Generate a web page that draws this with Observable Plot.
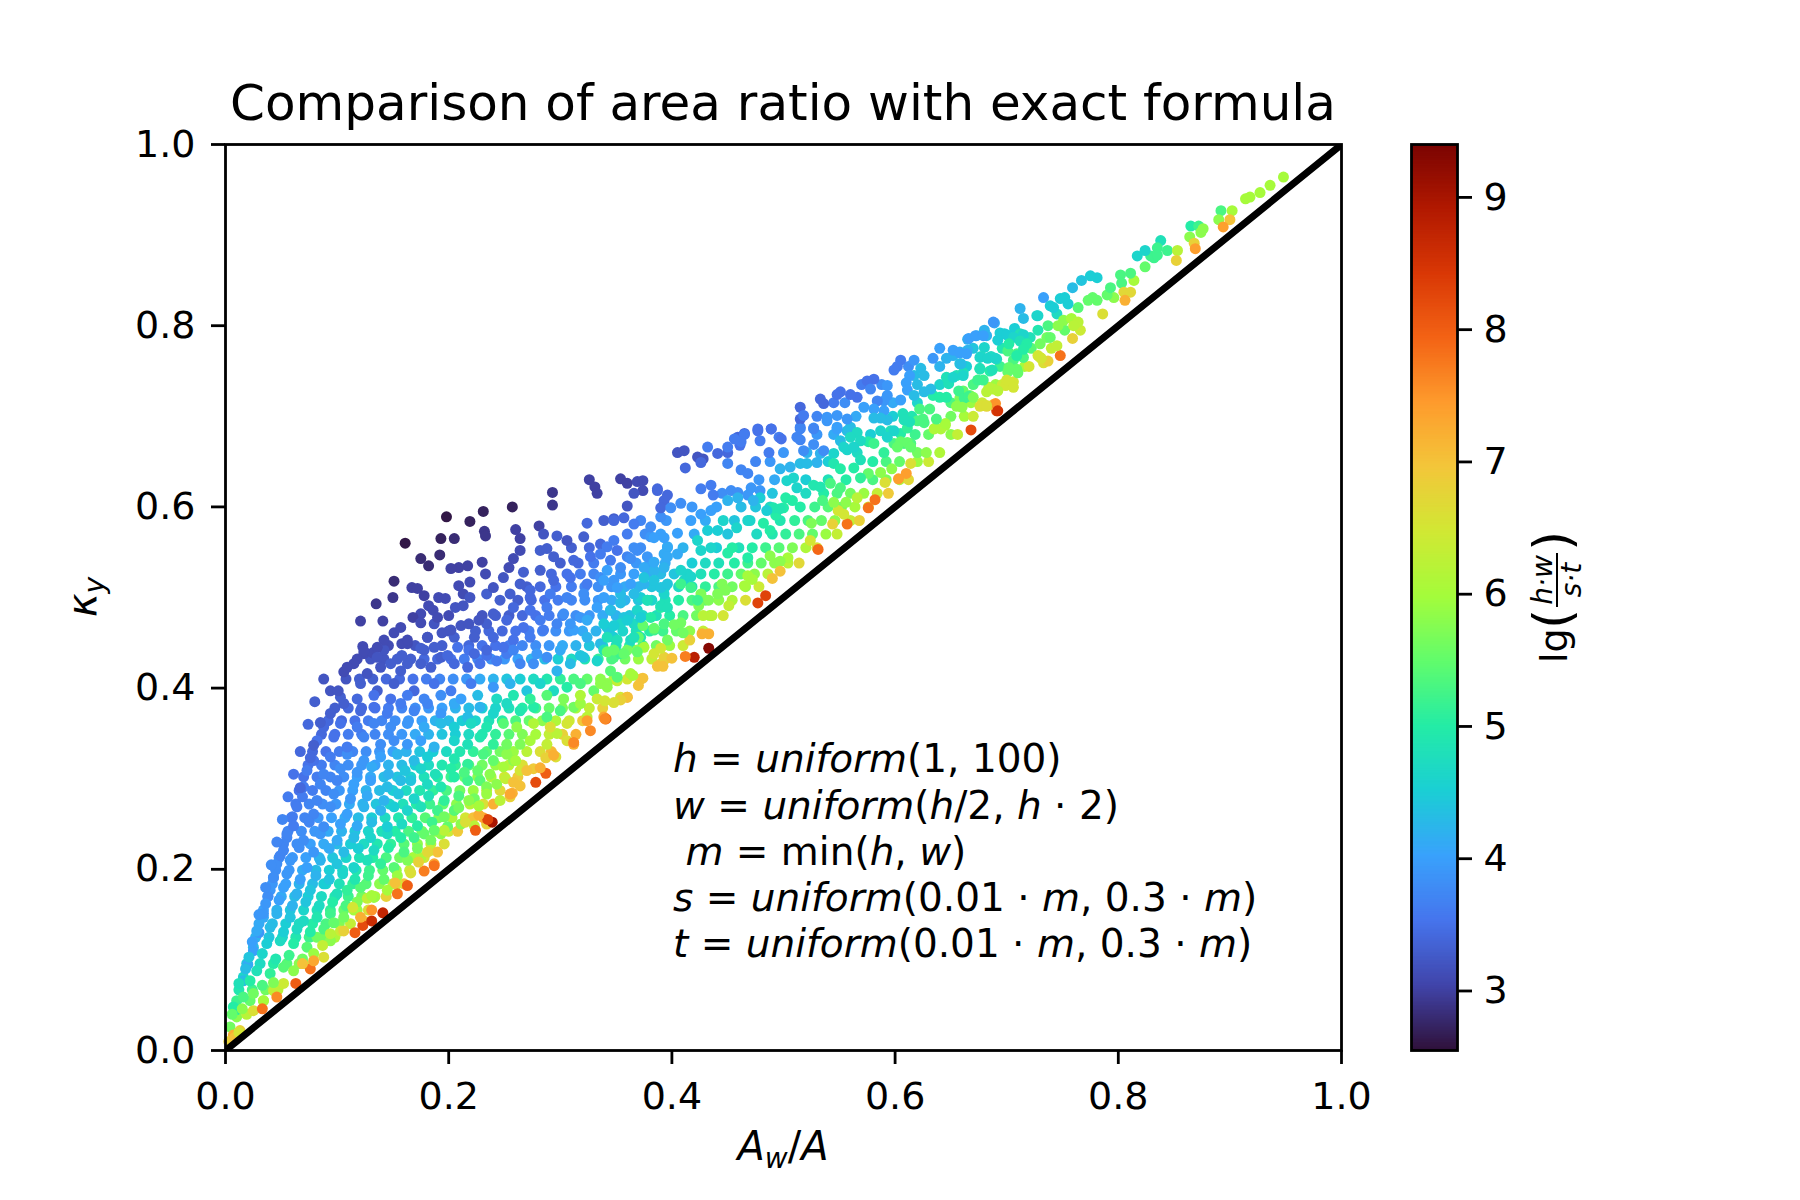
<!DOCTYPE html>
<html>
<head>
<meta charset="utf-8">
<script src="https://cdn.jsdelivr.net/npm/d3@7"></script>
<script src="https://cdn.jsdelivr.net/npm/@observablehq/plot@0.6"></script>
<style>
  html, body { margin: 0; padding: 0; background: white; }
  #wrap { position: relative; width: 1800px; height: 1200px; }
  g[aria-label$="-axis tick"] { stroke-width: 2.8px; }
  g[aria-label="x-axis"] .tick line, g[aria-label="y-axis"] .tick line { stroke-width: 2.8px; }
</style>
</head>
<body>
<div id="wrap"></div>
<script>
// ---------------- data ----------------
// each entry: [A_w/A, kappa_y, lg(h*w/(s*t))]
const darkTop = [
[.161,.560,2.6],[.198,.589,2.6],[.219,.584,2.7],[.231,.595,2.7],[.257,.600,2.7],[.193,.565,2.7],[.205,.565,2.8],
[.175,.543,2.8],[.182,.535,2.8],[.192,.547,2.8],[.151,.518,2.8],[.150,.500,2.9],[.135,.493,2.9],[.121,.474,3.0],
[.141,.474,3.0],[.123,.446,3.1],[.109,.423,3.1],[.101,.397,3.2],[.085,.362,3.3],[.079,.337,3.3],[.076,.323,3.4],
[.067,.290,3.4],[.232,.573,2.9],[.233,.568,2.9],[.260,.575,3.0],[.264,.565,3.0],[.264,.552,3.1],[.281,.579,3.0],
[.293,.616,2.9],[.293,.602,2.9],[.326,.630,3.0],[.331,.622,3.0],[.333,.615,3.0],[.354,.631,3.0],[.360,.626,3.0],
[.374,.629,3.1],[.374,.618,3.1],[.387,.618,3.4],[.393,.607,3.4],[.366,.615,3.2],[.360,.601,3.2],[.339,.585,3.3],
[.348,.587,3.3],[.324,.582,3.4],[.297,.568,3.3],[.282,.552,3.3],[.288,.554,3.3],[.254,.533,3.1],[.258,.543,3.1],
[.267,.528,3.3],[.230,.539,3.0],[.209,.533,3.0],[.217,.535,3.0],[.233,.526,3.1],[.202,.532,3.0],[.209,.513,3.1],
[.219,.517,3.1],[.213,.504,3.1],[.167,.511,3.0],[.172,.510,3.0],[.178,.502,3.0],[.191,.500,3.1],[.197,.499,3.1],
[.182,.491,3.1],[.186,.486,3.1],[.175,.482,3.1],[.190,.478,3.1],[.206,.489,3.2],[.213,.491,3.2],[.151,.461,3.1],
[.157,.467,3.1],[.168,.478,3.0],[.175,.472,3.1],[.194,.461,3.2],[.202,.464,3.2],[.211,.469,3.2],[.218,.471,3.2],
[.227,.475,3.2],[.158,.449,3.1],[.163,.453,3.1],[.142,.453,3.1],[.132,.439,3.1],[.136,.445,3.1],[.181,.456,3.2],
[.175,.444,3.3],[.187,.445,3.3],[.208,.445,3.5],[.124,.441,3.1],[.136,.434,3.2],[.219,.500,3.2],[.234,.504,3.3],
[.246,.497,3.3],[.240,.482,3.3],[.252,.475,3.4],[.249,.522,3.2],[.264,.515,3.3],[.273,.508,3.4],[.240,.511,3.2],
[.285,.570,3.2],[.366,.581,3.6],[.381,.578,3.8],[.390,.589,3.8],[.249,.445,3.5],[.234,.442,3.4],[.223,.438,3.4]
];

const leftEdge = [
[.018,.090,4.3],[.024,.120,4.0],[.030,.150,3.9],[.036,.180,3.8],[.041,.205,3.8],[.046,.230,3.7],[.051,.255,3.7],
[.056,.280,3.6],[.061,.305,3.5],[.067,.330,3.4],[.074,.360,3.4],[.080,.385,3.3],[.088,.410,3.2]
];

const bandMiddle = [
[.106,.418,3.1],[.115,.427,3.1],[.127,.416,3.2],[.139,.423,3.2],[.148,.427,3.3],[.157,.419,3.3],[.163,.427,3.3],
[.175,.427,3.3],[.184,.423,3.3],[.193,.434,3.3],[.205,.427,3.4],[.217,.423,3.4],[.228,.427,3.5],[.243,.430,3.6],
[.252,.438,3.6],[.264,.427,3.7],[.276,.427,3.8],[.288,.434,3.8],[.297,.419,4.2],[.309,.427,4.3],[.321,.434,4.4],
[.333,.430,4.6],[.348,.434,5.3],[.360,.442,5.6],[.369,.442,5.8],[.384,.438,6.5],[.390,.427,6.9],[.393,.434,6.8],
[.163,.449,3.1],[.181,.456,3.2],[.205,.456,3.3],[.223,.456,3.3],[.240,.456,3.4],[.258,.453,3.5],[.273,.456,3.6],
[.285,.464,3.6],[.297,.471,3.7],[.312,.464,4.0],[.324,.456,4.2],[.336,.449,4.3],[.348,.456,4.5],[.363,.453,4.7],
[.372,.456,4.9],[.384,.464,5.2],[.393,.471,5.3],[.396,.453,5.6],
[.258,.489,3.4],[.273,.486,3.5],[.288,.489,3.6],[.303,.482,3.8],[.318,.478,3.9],[.333,.489,4.0],[.345,.486,4.2],
[.357,.478,4.4],[.369,.486,4.6],[.378,.497,4.8],[.390,.489,5.0],[.393,.504,4.6],
[.282,.530,3.3],[.294,.519,3.4],[.309,.522,3.5],[.324,.515,3.6],[.336,.522,3.8],[.348,.519,3.9],[.363,.515,4.0],
[.375,.515,4.2],[.384,.530,4.2],[.393,.533,4.2],
[.306,.563,3.2],[.321,.567,3.3],[.336,.559,3.4],[.351,.552,3.5],[.369,.552,3.8],[.381,.567,3.9],[.390,.570,4.0],
[.396,.556,4.1],[.378,.545,3.9],
[.094,.372,3.3],[.106,.383,3.3],[.121,.375,3.4],[.133,.379,3.5],[.145,.372,3.6],[.157,.383,3.6],[.169,.375,3.7],
[.181,.383,3.7],[.193,.372,3.9],[.205,.383,4.1],[.217,.368,4.3],[.228,.379,4.2],[.240,.372,4.6],[.252,.383,4.7],
[.264,.375,4.9],[.276,.379,5.0],[.288,.368,5.3],[.300,.375,5.3],[.312,.379,5.6],[.318,.383,5.9],[.324,.368,6.2],
[.339,.368,7.3],[.354,.390,6.5],[.360,.390,7.3],
[.082,.342,3.5],[.097,.346,3.5],[.109,.335,3.6],[.124,.346,3.7],[.139,.338,3.8],[.151,.342,3.8],[.163,.338,3.9],
[.175,.342,4.0],[.187,.335,4.2],[.205,.342,4.6],[.217,.338,4.8],[.228,.346,4.9],[.240,.338,5.1],[.252,.338,5.6],
[.264,.338,5.7],[.273,.342,6.0],[.288,.338,6.3],[.297,.350,6.2],[.306,.342,6.6],[.312,.338,7.2],[.327,.353,7.6],
[.341,.366,7.9],
[.094,.397,3.2],[.121,.405,3.3],[.136,.397,3.3],[.151,.405,3.3],[.169,.397,3.4],[.187,.405,3.5],[.202,.397,3.6],
[.220,.405,3.6],[.240,.401,3.9],[.255,.405,4.2],[.270,.397,4.4],[.282,.405,4.6],[.294,.397,4.7],[.306,.401,5.0],
[.318,.405,5.3],[.330,.397,5.5],[.342,.405,5.8],[.351,.408,6.3],
[.088,.357,3.4],[.103,.361,3.5],[.118,.357,3.6],[.133,.361,3.7],[.148,.357,3.8],[.163,.361,3.9],[.178,.357,4.1],
[.193,.361,4.3],[.205,.357,4.5],[.220,.361,4.7],[.234,.357,4.9],[.249,.361,5.4],[.261,.357,5.8],[.276,.361,6.1],
[.291,.357,6.6],[.306,.361,6.5],[.324,.364,7.4],
[.124,.438,3.1],[.142,.442,3.2],[.158,.436,3.3],[.178,.442,3.3],[.199,.436,3.4],[.218,.442,3.5],[.234,.436,3.5],
[.258,.442,3.7],[.279,.438,3.9],[.300,.442,4.1],[.318,.436,4.4],[.339,.442,4.8],[.354,.438,5.2],[.375,.445,6.0],
[.187,.471,3.2],[.234,.471,3.3],[.267,.467,3.5],[.282,.475,3.6],[.309,.471,3.9],[.324,.475,4.1],[.342,.467,4.4],
[.354,.471,4.6],[.366,.471,4.7],[.381,.478,5.0],
[.255,.504,3.3],[.273,.500,3.4],[.291,.504,3.6],[.306,.500,3.7],[.321,.504,3.8],[.339,.500,4.0],[.354,.504,4.3],
[.372,.500,4.5],
[.294,.545,3.3],[.312,.541,3.4],[.327,.545,3.5],[.345,.541,3.6],[.360,.545,3.7],[.393,.548,4.1],
[.103,.390,3.3],[.118,.388,3.4],[.133,.392,3.5],[.148,.388,3.5],[.163,.392,3.6],[.178,.388,3.7],[.193,.392,3.8],
[.211,.388,4.0],[.226,.392,4.3],[.243,.388,4.7],[.258,.392,4.9],[.273,.388,5.1],[.288,.392,5.4],[.303,.388,5.7],
[.318,.392,6.1],[.333,.388,6.4]
];

const bandLow = [
[.079,.320,3.5],[.094,.324,3.6],[.109,.327,3.8],[.124,.320,3.9],[.139,.324,4.0],[.154,.327,4.2],[.169,.320,4.3],
[.181,.324,4.5],[.205,.322,4.9],[.217,.316,5.1],[.231,.327,5.3],[.240,.320,5.5],[.252,.327,5.8],[.258,.320,5.8],
[.070,.291,3.6],[.085,.294,3.7],[.100,.298,3.7],[.115,.294,4.0],[.130,.298,4.0],[.145,.291,4.3],[.157,.298,4.3],
[.166,.298,4.4],[.181,.294,4.7],[.193,.291,4.9],[.205,.302,5.0],[.217,.298,5.2],[.228,.298,5.4],[.234,.291,5.7],
[.243,.294,5.8],
[.064,.269,3.6],[.079,.261,3.7],[.094,.269,3.8],[.109,.261,4.0],[.124,.269,4.2],[.139,.265,4.2],[.151,.269,4.5],
[.163,.265,4.6],[.175,.269,4.8],[.190,.265,5.2],[.205,.265,5.4],[.196,.258,5.6],
[.055,.235,3.7],[.070,.232,3.8],[.085,.239,3.9],[.100,.232,4.1],[.115,.235,4.3],[.130,.235,4.6],[.145,.239,4.7],
[.157,.235,5.0],[.169,.235,5.2],[.178,.239,5.5],[.184,.232,5.6],[.193,.239,5.8],
[.046,.206,3.8],[.058,.210,3.9],[.073,.202,4.0],[.085,.210,4.2],[.100,.206,4.4],[.115,.202,4.6],[.127,.210,4.8],
[.139,.206,5.1],[.151,.202,5.4],[.163,.210,5.7],[.175,.213,6.1],[.184,.221,6.3],[.187,.206,7.3],
[.040,.177,3.9],[.052,.180,4.0],[.064,.173,4.2],[.076,.177,4.4],[.088,.184,4.5],[.100,.173,4.8],[.109,.177,5.1],
[.121,.180,5.4],[.133,.169,5.9],[.145,.177,6.0],[.154,.184,6.5],
[.034,.147,4.1],[.046,.151,4.2],[.058,.147,4.4],[.070,.143,4.7],[.082,.147,4.9],[.094,.151,5.2],[.106,.147,5.6],
[.115,.155,6.0],[.124,.143,7.0],
[.025,.114,4.3],[.037,.118,4.5],[.049,.121,4.7],[.061,.118,5.0],[.073,.114,5.4],[.082,.125,5.6],[.094,.121,5.8],
[.103,.132,6.4],
[.016,.081,4.6],[.028,.088,4.8],[.040,.085,5.1],[.052,.092,5.4],[.061,.088,5.8],[.070,.096,6.4],
[.007,.048,5.0],[.016,.059,5.3],[.025,.063,5.6],[.034,.055,6.0],[.043,.066,6.3],[.052,.074,6.4],
[.004,.026,5.6],[.010,.037,5.8],[.019,.040,6.2],[.025,.044,6.6],[.013,.022,6.8],[.007,.017,7.2],
[.003,.010,6.8],[.008,.014,7.0],[.012,.020,6.5],
[.010,.045,5.0],[.016,.077,4.3],[.025,.110,4.0],[.034,.151,3.9],[.043,.191,3.8],[.055,.239,3.7],[.067,.287,3.5],
[.020,.095,4.1],[.030,.130,3.9],[.038,.170,3.8],[.049,.215,3.7],[.060,.258,3.6],
[.073,.309,3.6],[.088,.305,3.7],[.103,.311,3.8],[.118,.307,3.9],[.131,.313,4.1],[.146,.305,4.2],[.161,.309,4.4],
[.175,.311,4.6],[.188,.305,4.8],[.202,.311,5.0],[.214,.307,5.3],[.226,.309,5.5],[.237,.305,5.8],[.249,.313,6.0],
[.264,.309,6.5],[.276,.311,6.9],
[.069,.280,3.6],[.082,.276,3.7],[.097,.283,3.8],[.112,.278,3.9],[.127,.281,4.1],[.142,.276,4.2],[.155,.283,4.4],
[.169,.278,4.6],[.182,.281,4.8],[.196,.276,5.1],[.209,.281,5.3],[.223,.278,5.6],[.234,.283,5.9],[.246,.276,6.2],
[.255,.280,6.8],
[.061,.248,3.6],[.075,.252,3.7],[.088,.247,3.8],[.103,.250,4.0],[.118,.248,4.1],[.131,.252,4.3],[.145,.247,4.5],
[.158,.250,4.7],[.172,.248,5.0],[.185,.252,5.2],[.199,.247,5.5],[.211,.250,5.8],[.223,.248,6.2],[.234,.250,6.8],
[.052,.221,3.7],[.066,.224,3.8],[.079,.219,3.9],[.093,.223,4.1],[.106,.219,4.3],[.119,.223,4.5],[.133,.221,4.7],
[.146,.224,5.0],[.160,.219,5.3],[.172,.223,5.6],
[.043,.191,3.8],[.055,.195,3.9],[.067,.189,4.0],[.081,.193,4.2],[.093,.189,4.4],[.105,.195,4.6],[.116,.189,4.9],
[.128,.193,5.2],[.142,.189,5.5],[.154,.193,5.9],
[.036,.162,3.9],[.048,.166,4.0],[.060,.160,4.2],[.072,.164,4.4],[.084,.160,4.7],[.096,.164,5.0],[.108,.160,5.3],
[.118,.164,5.7],
[.028,.132,4.1],[.040,.136,4.3],[.052,.131,4.5],[.064,.134,4.7],[.076,.131,5.0],[.088,.134,5.3],
[.021,.103,4.4],[.033,.107,4.6],[.045,.101,4.9],[.057,.105,5.2],[.069,.101,5.6],[.079,.107,5.9],[.088,.103,6.6],
[.012,.074,4.8],[.022,.077,5.0],[.033,.072,5.3],[.043,.075,5.7],
[.006,.040,5.5],[.015,.046,5.8]
];

const nearDiagonalLow = [
[.033,.046,7.8],[.046,.059,7.6],[.063,.074,8.0],[.076,.090,7.8],[.079,.099,7.3],[.069,.096,7.0],[.087,.116,6.3],
[.094,.129,6.2],[.097,.141,5.5],[.106,.132,6.8],[.116,.130,8.0],[.123,.138,8.2],[.131,.143,8.6],[.141,.152,8.7],
[.131,.155,7.5],[.121,.147,7.2],[.114,.158,6.5],[.127,.168,6.3],[.131,.171,6.0],[.154,.173,7.8],[.163,.182,8.0],
[.152,.185,7.0],[.166,.196,6.6],[.178,.198,7.7],[.187,.204,7.8],[.190,.219,7.0],[.181,.219,6.7],[.173,.208,6.8],
[.196,.243,6.2],[.187,.243,5.5],[.215,.252,6.6],[.224,.243,8.0],[.231,.257,7.4],[.239,.252,9.0],[.235,.255,8.3],
[.227,.260,7.2],[.218,.276,5.8],[.227,.270,6.0],[.209,.268,5.6],[.251,.300,6.3],[.258,.296,7.0],[.264,.292,7.0],
[.257,.284,7.2],[.278,.296,8.2],[.287,.306,8.0],[.282,.312,7.2],[.296,.324,6.6],[.287,.323,6.8],[.260,.320,6.0],
[.255,.283,7.3],[.270,.309,7.0],[.294,.326,7.2],[.312,.340,7.6]
];

const bandMid = [
[.668,.685,8.2],[.645,.690,6.0],[.636,.687,6.0],[.614,.648,6.6],[.610,.637,7.4],[.603,.631,7.4],[.591,.627,6.6],
[.587,.638,5.8],[.597,.642,5.8],[.576,.637,5.5],[.582,.608,7.8],[.576,.599,7.8],[.566,.610,6.2],[.557,.581,7.8],
[.554,.592,6.5],[.549,.596,6.5],[.544,.581,6.8],[.556,.605,5.8],[.545,.605,5.8],[.535,.607,5.3],[.525,.582,5.7],
[.524,.563,6.5],[.531,.553,7.9],[.504,.544,6.0],[.497,.540,5.8],[.488,.546,5.8],[.497,.529,7.0],[.490,.521,7.0],
[.484,.502,8.3],[.477,.494,8.3],[.468,.524,6.0],[.472,.520,6.0],[.465,.513,6.0],[.451,.491,6.3],[.445,.515,5.7],
[.448,.508,5.7],[.441,.504,5.7],[.433,.460,7.2],[.427,.460,7.2],[.416,.453,6.8],[.433,.444,9.3],[.420,.434,8.8],
[.412,.435,7.7],[.400,.433,7.0],[.392,.424,7.0],[.387,.424,7.0],[.390,.444,6.5],[.374,.411,7.0],[.370,.403,7.0],
[.365,.414,6.0],[.360,.390,7.0],[.354,.387,6.8],[.348,.384,6.6],[.340,.386,6.5],[.340,.366,7.6],[.374,.469,5.5],
[.384,.466,5.5],[.370,.456,5.5],[.408,.472,5.6],[.402,.470,5.6],[.410,.461,5.6],[.428,.480,6.2],[.436,.480,6.2],
[.426,.504,5.7],[.433,.497,5.7],[.424,.491,5.7],
[.369,.628,3.1],[.387,.620,3.4],[.396,.613,3.4],[.390,.599,3.4],[.405,.660,3.2],[.411,.662,3.2],[.423,.655,3.2],
[.428,.653,3.2],[.412,.643,3.4],[.426,.649,3.4],[.441,.659,3.4],[.450,.660,3.4],[.459,.677,3.4],[.465,.681,3.4],
[.477,.684,3.5],[.489,.686,3.5],[.496,.677,3.6],[.479,.673,3.6],[.487,.660,3.6],[.461,.668,3.5],[.450,.648,3.7],
[.462,.641,3.7],[.468,.637,3.7],[.426,.620,3.6],[.435,.624,3.6],[.437,.613,3.6],[.453,.618,3.8],[.459,.616,3.8],
[.471,.621,3.9],[.468,.613,3.9],[.479,.618,3.9],[.515,.688,3.7],[.527,.687,3.8],[.548,.688,4.0],[.539,.695,3.9],
[.521,.660,4.2],[.533,.659,4.2],[.530,.649,4.2],[.497,.642,4.2],[.506,.644,4.2],[.515,.648,4.3],[.521,.648,4.3],
[.557,.684,4.3],[.560,.688,4.3],[.551,.673,4.3],[.545,.659,4.6],[.557,.663,4.6],[.569,.652,4.8],[.576,.672,5.0],
[.596,.684,4.8],[.605,.681,5.0],[.611,.687,5.1],[.620,.695,5.3],[.626,.693,5.3],[.599,.670,5.3],[.608,.670,5.3],
[.614,.670,5.3],[.503,.629,4.6],[.509,.632,4.6],[.512,.621,4.6],[.527,.624,4.9],[.533,.622,4.9],[.545,.648,4.9],
[.551,.642,5.0],[.563,.643,5.0],[.569,.632,5.1],[.542,.626,5.3],[.551,.621,5.3],[.502,.610,5.0],[.508,.607,5.0],
[.500,.599,5.0],[.493,.591,5.0],[.491,.599,4.9],[.497,.598,4.9],[.479,.610,4.5],[.485,.596,4.5],[.473,.607,4.2],
[.459,.610,4.2],[.450,.607,4.2],[.468,.585,4.6],[.458,.577,4.6],[.446,.585,4.6],[.482,.582,5.0],[.488,.574,5.0],
[.435,.596,4.0],[.426,.592,4.0],[.417,.585,4.0],[.408,.604,3.8],[.399,.599,3.8],[.405,.571,4.0],[.393,.566,4.0],
[.384,.566,4.0],[.432,.574,4.5],[.441,.574,4.5],[.423,.563,4.6],[.426,.552,4.6],[.435,.555,4.6],[.454,.555,5.0],
[.450,.549,5.0],[.468,.544,5.0],[.405,.548,4.1],[.396,.545,4.1],[.384,.539,4.1],[.375,.533,4.1],[.366,.555,3.8],
[.363,.543,3.8],[.354,.533,3.8],[.348,.563,3.6],[.342,.556,3.6],[.336,.548,3.6],[.348,.585,3.4],[.357,.588,3.4],
[.342,.530,4.0],[.339,.519,4.0],[.351,.511,4.0],[.375,.522,4.4],[.384,.519,4.4],[.390,.511,4.4],[.396,.515,4.4],
[.408,.530,4.6],[.411,.519,4.6],[.417,.523,4.6],[.366,.504,4.3],[.354,.494,4.3],[.345,.486,4.3],[.378,.497,4.8],
[.390,.491,4.8],[.396,.489,4.8],[.408,.515,5.2],[.417,.511,5.2],[.423,.497,5.2],[.372,.478,4.5],[.360,.475,4.5],
[.348,.469,4.5],[.339,.471,4.5],[.342,.456,4.8],[.351,.453,4.8],[.366,.456,4.8],[.348,.442,5.5],[.357,.438,5.5],
[.369,.440,5.5],[.342,.440,5.5],[.345,.419,5.4],[.351,.412,5.4],[.363,.416,6.0],[.336,.405,5.8],[.342,.401,5.8]
];

const bandUpperMid = [
[.712,.819,4.2],[.715,.808,4.3],[.727,.811,4.6],[.689,.803,4.1],[.737,.800,5.3],[.707,.797,4.5],[.698,.791,4.5],
[.692,.784,4.5],[.682,.789,4.2],[.673,.789,4.2],[.665,.785,4.2],[.712,.791,4.8],[.721,.787,4.8],[.730,.780,5.6],
[.736,.787,5.6],[.680,.776,4.6],[.686,.766,4.7],[.677,.766,4.7],[.691,.763,4.8],[.701,.772,5.3],[.709,.769,5.3],
[.715,.765,5.3],[.706,.762,5.3],[.730,.765,6.5],[.733,.759,6.6],[.658,.771,4.2],[.665,.773,4.2],[.652,.767,4.2],
[.646,.764,4.2],[.634,.764,3.9],[.617,.762,3.9],[.658,.758,4.4],[.676,.752,5.0],[.685,.750,5.0],[.701,.749,5.5],
[.709,.752,5.5],[.706,.738,6.5],[.699,.734,6.5],[.688,.730,6.2],[.682,.727,6.2],[.691,.706,8.3],[.688,.713,7.0],
[.682,.711,6.8],[.676,.711,6.6],[.641,.686,6.1],[.635,.686,6.1],[.645,.692,6.0],[.661,.728,5.5],[.667,.723,5.6],
[.658,.720,5.7],[.655,.711,5.8],[.648,.736,4.8],[.646,.743,4.8],[.655,.745,4.8],[.661,.748,4.8],[.634,.723,5.0],
[.640,.721,5.0],[.646,.721,5.0],[.622,.708,5.3],[.631,.708,5.3],[.637,.697,5.3],[.625,.697,5.3],[.607,.703,4.8],
[.613,.694,4.8],[.608,.696,4.8],[.605,.762,3.6],[.602,.755,3.6],[.599,.751,3.6],[.617,.745,4.3],[.623,.753,4.3],
[.626,.745,4.3],[.632,.730,4.3],[.626,.727,4.3],[.613,.745,4.0],[.610,.737,4.0],[.611,.729,4.0],[.605,.718,4.0],
[.617,.723,4.3],[.593,.734,3.9],[.593,.723,3.9],[.590,.717,3.9],[.581,.741,3.5],[.575,.739,3.5],[.578,.730,3.7],
[.584,.717,3.7],[.566,.721,3.5],[.560,.724,3.5],[.551,.727,3.5],[.548,.724,3.5],[.572,.710,4.0],[.581,.708,4.0],
[.590,.706,4.0],[.593,.696,4.3],[.587,.698,4.3],[.581,.698,4.3],[.599,.684,4.6],[.593,.677,4.6],[.587,.684,4.6],
[.566,.682,4.7],[.560,.677,4.7],[.569,.673,4.7],[.557,.697,3.9],[.548,.701,3.9],[.539,.699,3.9],[.533,.719,3.4],
[.536,.714,3.4],[.515,.710,3.4],[.515,.697,3.4],[.518,.701,3.6],[.527,.686,3.7],[.515,.686,3.7],[.512,.677,3.7],
[.515,.674,3.7],[.548,.686,4.0],[.581,.670,5.2],[.554,.666,4.6],[.563,.666,4.6],[.605,.672,5.5],[.611,.671,5.5],
[.614,.666,5.5],[.602,.666,5.5],[.498,.675,3.5],[.489,.686,3.5],[.477,.686,3.5],[.465,.680,3.6],[.462,.672,3.6],
[.456,.675,3.6],[.450,.666,3.6],[.432,.666,3.6],[.527,.669,3.8],[.536,.662,3.8],[.518,.662,3.8]
];

const bandUpperRight = [
[.948,.964,6.0],[.936,.955,6.0],[.927,.947,6.0],[.918,.942,6.0],[.914,.940,6.0],[.892,.927,5.3],[.902,.927,6.0],
[.890,.917,5.8],[.900,.917,7.0],[.894,.909,7.4],[.865,.910,5.0],[.872,.910,5.2],[.876,.907,5.8],[.874,.903,5.8],
[.864,.898,5.8],[.868,.891,6.8],[.869,.885,7.4],[.838,.894,4.8],[.835,.886,5.2],[.844,.883,5.2],[.829,.877,5.2],
[.832,.875,5.2],[.835,.878,5.2],[.853,.883,6.2],[.852,.872,6.8],[.824,.865,5.5],[.817,.877,4.6],[.824,.883,4.6],
[.814,.850,6.0],[.811,.858,5.3],[.802,.856,5.3],[.803,.847,5.3],[.805,.837,6.7],[.811,.837,6.7],[.806,.828,7.2],
[.796,.831,5.8],[.790,.834,5.5],[.793,.842,5.3],[.786,.813,6.6],[.781,.853,4.5],[.775,.855,4.5],[.767,.850,4.4],
[.759,.842,4.3],[.781,.828,5.5],[.777,.831,5.5],[.773,.828,5.5],[.764,.820,5.4],[.755,.824,4.5],[.748,.830,4.5],
[.752,.831,4.5],[.745,.813,4.7],[.733,.831,4.0],[.739,.822,4.5],[.742,.820,4.5],[.751,.806,5.8],[.758,.808,6.0],
[.764,.804,6.2],[.760,.800,6.2],[.746,.800,5.8],[.759,.786,6.8],[.748,.767,7.8],[.728,.811,4.6],[.688,.804,3.9],
[.739,.787,5.5],[.745,.778,6.3],[.728,.767,6.5],[.737,.761,6.8],[.731,.764,6.5],[.694,.792,4.5],[.700,.790,4.5],
[.706,.787,4.6],[.715,.790,4.6],[.712,.783,4.8],[.702,.780,5.0],[.718,.780,5.0],[.709,.767,5.0],[.715,.774,5.0],
[.702,.754,5.5],[.710,.748,5.5],[.700,.740,6.5],[.706,.732,6.5],[.684,.732,6.2],[.692,.728,6.2],[.690,.714,7.5],
[.692,.706,8.5],[.678,.712,6.6],[.682,.712,6.6],[.666,.786,4.0],[.672,.789,4.0],[.679,.789,4.0],[.652,.773,4.0],
[.658,.770,4.0],[.664,.769,4.0],[.676,.765,4.6],[.683,.764,4.6],[.690,.764,4.6],[.659,.758,4.3],[.652,.743,4.6],
[.661,.745,4.6],[.676,.753,4.8],[.687,.751,4.8],[.674,.740,5.2],[.679,.740,5.2],[.657,.728,5.2],[.662,.720,5.2],
[.666,.722,5.2],[.670,.721,5.7],[.660,.710,5.8]
];

// further points read from the densely filled part of the band
const bandDenseLow = [
[.010,.055,5.2],[.022,.055,5.5],[.034,.055,6.0],
[.012,.067,4.9],[.024,.067,5.2],[.036,.067,5.6],[.047,.067,6.2],
[.019,.096,4.4],[.031,.096,4.7],[.043,.096,5.0],[.055,.096,5.4],[.066,.096,5.8],
[.027,.125,4.2],[.039,.125,4.4],[.051,.125,4.6],[.063,.125,4.9],[.075,.125,5.2],[.087,.125,5.6],[.098,.125,6.1],
[.030,.140,4.1],[.042,.140,4.3],[.054,.140,4.5],[.066,.140,4.7],[.078,.140,5.0],[.090,.140,5.3],[.102,.140,5.7],[.112,.140,6.3],
[.034,.155,4.0],[.046,.155,4.2],[.058,.155,4.4],[.070,.155,4.6],[.082,.155,4.8],[.094,.155,5.1],[.106,.155,5.5],[.118,.155,5.9],[.128,.155,6.6],
[.038,.170,3.9],[.050,.170,4.1],[.062,.170,4.3],[.074,.170,4.5],[.086,.170,4.7],[.098,.170,4.9],[.110,.170,5.2],[.122,.170,5.6],[.134,.170,6.1],[.144,.170,6.8],
[.042,.184,3.9],[.054,.184,4.0],[.066,.184,4.2],[.078,.184,4.3],[.090,.184,4.6],[.102,.184,4.8],[.114,.184,5.1],[.126,.184,5.4],[.138,.184,5.8],[.150,.184,6.3],[.160,.184,7.0],
[.045,.199,3.8],[.057,.199,3.9],[.069,.199,4.1],[.081,.199,4.3],[.093,.199,4.5],[.105,.199,4.7],[.117,.199,4.9],[.129,.199,5.2],[.141,.199,5.5],[.153,.199,5.9],[.165,.199,6.4],
[.048,.213,3.8],[.060,.213,3.9],[.072,.213,4.0],[.084,.213,4.2],[.096,.213,4.4],[.108,.213,4.6],[.120,.213,4.8],[.132,.213,5.0],[.144,.213,5.3],[.156,.213,5.6],[.168,.213,6.0],[.178,.213,6.5],
[.052,.228,3.7],[.064,.228,3.8],[.076,.228,4.0],[.088,.228,4.1],[.100,.228,4.3],[.112,.228,4.5],[.124,.228,4.7],[.136,.228,4.9],[.148,.228,5.1],[.160,.228,5.4],[.172,.228,5.8],[.184,.228,6.2],[.196,.228,6.6],
[.056,.242,3.7],[.068,.242,3.8],[.080,.242,3.9],[.092,.242,4.1],[.104,.242,4.2],[.116,.242,4.4],[.128,.242,4.6],[.140,.242,4.8],[.152,.242,5.0],[.164,.242,5.3],[.176,.242,5.6],[.188,.242,6.0],[.200,.242,6.4],[.208,.242,6.9],
[.059,.257,3.6],[.071,.257,3.7],[.083,.257,3.9],[.095,.257,4.0],[.107,.257,4.1],[.119,.257,4.3],[.131,.257,4.5],[.143,.257,4.7],[.155,.257,4.9],[.167,.257,5.1],[.179,.257,5.4],[.191,.257,5.7],[.203,.257,6.1],[.215,.257,6.5],[.222,.257,7.0],
[.063,.272,3.6],[.075,.272,3.7],[.087,.272,3.8],[.099,.272,3.9],[.111,.272,4.1],[.123,.272,4.2],[.135,.272,4.4],[.147,.272,4.6],[.159,.272,4.8],[.171,.272,5.0],[.183,.272,5.2],[.195,.272,5.5],[.207,.272,5.8],[.219,.272,6.2],[.231,.272,6.6],[.240,.272,7.2],
[.066,.287,3.5],[.078,.287,3.6],[.090,.287,3.7],[.102,.287,3.9],[.114,.287,4.0],[.126,.287,4.2],[.138,.287,4.3],[.150,.287,4.5],[.162,.287,4.7],[.174,.287,4.9],[.186,.287,5.1],[.198,.287,5.3],[.210,.287,5.6],[.222,.287,5.9],[.234,.287,6.3],[.246,.287,6.7],
[.070,.302,3.5],[.082,.302,3.6],[.094,.302,3.7],[.106,.302,3.8],[.118,.302,4.0],[.130,.302,4.1],[.142,.302,4.3],[.154,.302,4.4],[.166,.302,4.6],[.178,.302,4.8],[.190,.302,5.0],[.202,.302,5.2],[.214,.302,5.5],[.226,.302,5.8],[.238,.302,6.1],[.250,.302,6.5],[.262,.302,6.9],
[.074,.315,3.5],[.086,.315,3.6],[.098,.315,3.7],[.110,.315,3.8],[.122,.315,3.9],[.134,.315,4.0],[.146,.315,4.2],[.158,.315,4.3],[.170,.315,4.5],[.182,.315,4.7],[.194,.315,4.9],[.206,.315,5.1],[.218,.315,5.4],[.230,.315,5.6],[.242,.315,5.9],[.254,.315,6.2],[.266,.315,6.6]
];

const bandDenseMid = [
[.078,.330,3.4],[.090,.330,3.5],[.102,.330,3.6],[.114,.330,3.7],[.126,.330,3.8],[.138,.330,3.9],[.150,.330,4.0],[.162,.330,4.2],[.174,.330,4.4],[.186,.330,4.5],[.198,.330,4.7],[.210,.330,4.9],[.222,.330,5.1],[.234,.330,5.4],[.246,.330,5.6],[.258,.330,5.9],[.270,.330,6.2],[.282,.330,6.6],[.292,.330,7.1],
[.086,.349,3.4],[.098,.349,3.5],[.110,.349,3.6],[.122,.349,3.6],[.134,.349,3.7],[.146,.349,3.8],[.158,.349,3.9],[.170,.349,4.1],[.182,.349,4.2],[.194,.349,4.4],[.206,.349,4.5],[.218,.349,4.7],[.230,.349,4.9],[.242,.349,5.1],[.254,.349,5.4],[.266,.349,5.7],[.278,.349,6.0],[.290,.349,6.3],[.302,.349,6.8],[.314,.349,7.2],
[.092,.364,3.4],[.104,.364,3.4],[.116,.364,3.5],[.128,.364,3.6],[.140,.364,3.7],[.152,.364,3.8],[.164,.364,3.9],[.176,.364,4.0],[.188,.364,4.2],[.200,.364,4.3],[.212,.364,4.5],[.224,.364,4.6],[.236,.364,4.8],[.248,.364,5.0],[.260,.364,5.3],[.272,.364,5.5],[.284,.364,5.8],[.296,.364,6.1],[.308,.364,6.4],[.320,.364,6.9],
[.098,.378,3.3],[.110,.378,3.4],[.122,.378,3.4],[.134,.378,3.5],[.146,.378,3.6],[.158,.378,3.7],[.170,.378,3.8],[.182,.378,3.9],[.194,.378,4.0],[.206,.378,4.2],[.218,.378,4.3],[.230,.378,4.5],[.242,.378,4.6],[.254,.378,4.8],[.266,.378,5.0],[.278,.378,5.2],[.290,.378,5.5],[.302,.378,5.7],[.314,.378,6.0],[.326,.378,6.3],[.338,.378,6.8],
[.108,.410,3.2],[.120,.410,3.3],[.132,.410,3.3],[.144,.410,3.4],[.156,.410,3.4],[.168,.410,3.5],[.180,.410,3.6],[.192,.410,3.7],[.204,.410,3.8],[.216,.410,3.9],[.228,.410,4.1],[.240,.410,4.2],[.252,.410,4.4],[.264,.410,4.5],[.276,.410,4.7],[.288,.410,4.9],[.300,.410,5.1],[.312,.410,5.3],[.324,.410,5.5],[.336,.410,5.8],[.348,.410,6.1],[.360,.410,6.5],[.372,.410,6.9],
[.118,.432,3.1],[.130,.432,3.2],[.142,.432,3.2],[.154,.432,3.3],[.166,.432,3.3],[.178,.432,3.4],[.190,.432,3.4],[.202,.432,3.5],[.214,.432,3.6],[.226,.432,3.7],[.238,.432,3.8],[.250,.432,3.9],[.262,.432,4.0],[.274,.432,4.2],[.286,.432,4.3],[.298,.432,4.5],[.310,.432,4.7],[.322,.432,4.9],[.334,.432,5.1],[.346,.432,5.3],[.358,.432,5.6],[.370,.432,5.9],[.382,.432,6.3],[.394,.432,6.7],
[.146,.447,3.1],[.170,.447,3.2],[.194,.447,3.3],[.218,.447,3.4],[.230,.447,3.5],[.242,.447,3.5],[.254,.447,3.6],[.266,.447,3.7],[.278,.447,3.8],[.290,.447,3.9],[.302,.447,4.1],[.314,.447,4.2],[.326,.447,4.4],[.338,.447,4.6],[.350,.447,4.8],[.362,.447,5.0],[.374,.447,5.3],[.386,.447,5.6],[.398,.447,5.9],[.410,.447,6.4],
[.200,.463,3.2],[.224,.463,3.3],[.236,.463,3.4],[.248,.463,3.4],[.260,.463,3.5],[.272,.463,3.6],[.284,.463,3.7],[.296,.463,3.8],[.308,.463,3.9],[.320,.463,4.1],[.332,.463,4.2],[.344,.463,4.4],[.356,.463,4.6],[.368,.463,4.8],[.380,.463,5.0],[.392,.463,5.2],[.404,.463,5.5],[.416,.463,5.8],[.428,.463,6.3],
[.200,.480,3.1],[.230,.480,3.2],[.242,.480,3.3],[.254,.480,3.3],[.266,.480,3.4],[.278,.480,3.5],[.290,.480,3.6],[.302,.480,3.7],[.314,.480,3.8],[.326,.480,3.9],[.338,.480,4.1],[.350,.480,4.2],[.362,.480,4.4],[.374,.480,4.6],[.386,.480,4.8],[.398,.480,5.0],[.410,.480,5.3],[.422,.480,5.6],[.434,.480,6.0],[.446,.480,6.5],
[.262,.497,3.3],[.274,.497,3.4],[.286,.497,3.5],[.298,.497,3.6],[.310,.497,3.7],[.322,.497,3.8],[.334,.497,3.9],[.346,.497,4.1],[.358,.497,4.2],[.370,.497,4.4],[.382,.497,4.6],[.394,.497,4.8],[.406,.497,5.0],[.418,.497,5.3],[.430,.497,5.5],[.442,.497,5.8],[.454,.497,6.1],[.466,.497,6.6],
[.270,.512,3.3],[.282,.512,3.4],[.296,.512,3.5],[.310,.512,3.6],[.322,.512,3.7],[.334,.512,3.8],[.346,.512,3.9],[.358,.512,4.1],[.370,.512,4.2],[.382,.512,4.4],[.394,.512,4.5],[.406,.512,4.7],[.418,.512,4.9],[.430,.512,5.1],[.442,.512,5.3],[.454,.512,5.6],[.466,.512,5.9],[.478,.512,6.4],
[.292,.526,3.4],[.306,.526,3.5],[.318,.526,3.6],[.330,.526,3.7],[.354,.526,3.9],[.366,.526,4.0],[.378,.526,4.1],[.390,.526,4.3],[.402,.526,4.4],[.414,.526,4.6],[.426,.526,4.8],[.438,.526,5.0],[.450,.526,5.2],[.462,.526,5.5],[.474,.526,5.8],[.486,.526,6.2]
];

const bandDenseUpper = [
[.300,.538,3.3],[.316,.538,3.4],[.330,.538,3.6],[.368,.538,3.9],[.380,.538,4.0],[.394,.538,4.1],[.418,.538,4.5],[.430,.538,4.7],[.442,.538,4.8],[.456,.538,5.0],[.468,.538,5.2],[.480,.538,5.5],[.492,.538,5.8],[.504,.538,6.2],[.514,.538,6.7],
[.310,.555,3.3],[.326,.555,3.4],[.372,.555,3.8],[.396,.555,4.0],[.410,.555,4.2],[.440,.555,4.5],[.460,.555,4.8],[.472,.555,5.0],[.484,.555,5.2],[.496,.555,5.4],[.508,.555,5.7],[.520,.555,6.1],[.530,.555,6.6],
[.360,.570,3.6],[.376,.570,3.8],[.420,.570,4.1],[.450,.570,4.4],[.476,.570,4.7],[.490,.570,4.9],[.502,.570,5.1],[.514,.570,5.3],[.526,.570,5.5],[.538,.570,5.9],[.548,.570,6.3],
[.372,.585,3.7],[.395,.585,3.9],[.430,.585,4.1],[.456,.585,4.4],[.470,.585,4.6],[.497,.585,4.9],[.510,.585,5.1],[.522,.585,5.3],[.534,.585,5.5],[.546,.585,5.8],[.560,.585,6.3],[.568,.585,6.8],
[.418,.600,3.9],[.440,.600,4.0],[.462,.600,4.3],[.475,.600,4.4],[.488,.600,4.7],[.515,.600,5.0],[.528,.600,5.2],[.540,.600,5.4],[.552,.600,5.6],[.564,.600,6.0],[.576,.600,6.5],
[.445,.615,3.8],[.490,.615,4.4],[.520,.615,4.7],[.536,.615,5.0],[.548,.615,5.3],[.560,.615,5.6],[.572,.615,5.9],[.584,.615,6.3],[.594,.615,6.9],
[.478,.630,3.9],[.492,.630,4.1],[.520,.630,4.5],[.540,.630,4.8],[.556,.630,5.0],[.580,.630,5.3],[.592,.630,5.7],[.604,.630,6.1],[.612,.630,6.7],
[.475,.650,3.7],[.488,.650,3.9],[.540,.650,4.5],[.580,.650,5.0],[.592,.650,5.3],[.604,.650,5.5],[.620,.650,5.9],[.630,.650,6.4],
[.500,.660,3.9],[.566,.660,4.7],[.590,.660,5.1],[.620,.660,5.6],[.628,.660,5.8],[.640,.660,6.1],
[.530,.680,3.9],[.545,.680,4.1],[.578,.680,4.5],[.618,.680,5.2],[.630,.680,5.5],[.650,.680,5.8],[.656,.680,6.3],
[.530,.700,3.7],[.565,.700,4.1],[.598,.700,4.5],[.615,.700,4.9],[.650,.700,5.6],[.662,.700,6.0],[.670,.700,6.4],
[.545,.715,3.6],[.555,.715,3.8],[.598,.715,4.1],[.620,.715,4.6],[.650,.715,5.3],[.668,.715,5.9],[.678,.715,6.4],
[.570,.735,3.6],[.588,.735,3.8],[.620,.735,4.3],[.640,.735,4.6],[.670,.735,5.3],[.690,.735,5.9],[.696,.735,6.4],
[.612,.755,3.8],[.640,.755,4.2],[.664,.755,4.5],[.694,.755,5.2],[.716,.755,6.0],[.720,.755,6.5],
[.640,.775,4.0],[.670,.775,4.4],[.696,.775,4.9],[.722,.775,5.4],[.740,.775,6.3],
[.680,.795,4.2],[.728,.795,4.9],[.752,.795,5.5],[.766,.795,6.4]
];

const axisTicks = [0, 0.2, 0.4, 0.6, 0.8, 1.0];
const colorTicks = [3, 4, 5, 6, 7, 8, 9];
const colorDomain = [2.55, 9.4];
const diagX = [0, 1];
const diagY = [0, 1];
const turboStops = ["#30123b","#4145ab","#4675ed","#39a2fc","#1bcfd4","#24eca6","#61fc6c","#a4fc3b",
                    "#d1e834","#f3c63a","#fe9b2d","#f36315","#d93806","#b11901","#7a0402"];

// ---------------- chart ----------------
const points = [].concat(bandDenseLow, bandDenseMid, bandDenseUpper, bandLow, bandMiddle, leftEdge, darkTop,
                         nearDiagonalLow, bandMid, bandUpperMid, bandUpperRight);
const diag = diagX.map((v, i) => ({x: v, y: diagY[i]}));
const turboInterp = d3.piecewise(d3.interpolateRgb, turboStops);
const colorOpts = {type: "linear", domain: colorDomain, interpolate: turboInterp};
const FONT = "DejaVu Sans";

const main = Plot.plot({
  width: 1800, height: 1200,
  marginLeft: 225, marginRight: 459, marginTop: 144, marginBottom: 150,
  style: {fontFamily: FONT, fontSize: "38px", color: "black", background: "white", overflow: "visible"},
  x: {domain: [0, 1], ticks: axisTicks, tickFormat: d => d.toFixed(1), tickSize: 14, tickPadding: 18, label: null},
  y: {domain: [0, 1], ticks: axisTicks, tickFormat: d => d.toFixed(1), tickSize: 14, tickPadding: 16, label: null},
  color: colorOpts,
  marks: [
    Plot.dot(points, {x: d => d[0], y: d => d[1], fill: d => d[2], r: 5.5}),
    Plot.line(diag, {x: "x", y: "y", stroke: "black", strokeWidth: 7, clip: true}),
    Plot.frame({stroke: "black", strokeWidth: 2.8})
  ]
});

const cbSteps = d3.range(colorDomain[0], colorDomain[1], 0.01);
const bar = Plot.plot({
  width: 1800, height: 1200,
  marginLeft: 1411, marginRight: 343, marginTop: 144, marginBottom: 150,
  style: {fontFamily: FONT, fontSize: "38px", color: "black", background: "transparent"},
  x: {domain: [0, 1], axis: null},
  y: {domain: colorDomain, ticks: colorTicks, tickFormat: d => String(d), tickSize: 14, tickPadding: 12, label: null, axis: "right"},
  color: colorOpts,
  marks: [
    Plot.rect(cbSteps, {x1: () => 0, x2: () => 1, y1: d => d, y2: d => Math.min(d + 0.02, colorDomain[1]), fill: d => d}),
    Plot.frame({stroke: "black", strokeWidth: 2.8})
  ]
});
bar.style.position = "absolute";
bar.style.left = "0px";
bar.style.top = "0px";

const wrap = document.getElementById("wrap");
wrap.appendChild(main);
wrap.appendChild(bar);

// ---------------- text ----------------
const svg = d3.select(main);
function mathText(parent, x, y, size, parts, extra) {
  const t = parent.append("text")
    .attr("x", x).attr("y", y)
    .attr("font-family", FONT).attr("font-size", size)
    .attr("fill", "black").attr("text-anchor", (extra && extra.anchor) || "start")
    .attr("stroke", "none");
  if (extra && extra.transform) t.attr("transform", extra.transform);
  for (const p of parts) {
    const s = t.append("tspan").text(p[0]);
    if (p[1]) s.attr("font-style", "italic");
    if (p[2]) s.attr("dy", p[2]);
    if (p[3]) s.attr("font-size", p[3]);
  }
  return t;
}

// title
mathText(svg, 783, 120, 50, [["Comparison of area ratio with exact formula"]], {anchor: "middle"});
// x label  A_w / A
mathText(svg, 783, 1160, 40, [["A", true], ["w", true, "8", 28], ["/", false, "-8"], ["A", true]], {anchor: "middle"});
// y label  kappa_y
mathText(svg, 0, 0, 40, [["κ", true], ["y", true, "8", 28]], {anchor: "middle", transform: "translate(96,597) rotate(-90)"});

// formula block
const lines = [
  [[ "h", true], [" = "], ["uniform", true], ["(1, 100)"]],
  [[ "w", true], [" = "], ["uniform", true], ["("], ["h", true], ["/2, "], ["h", true], [" · 2)"]],
  [[ " m", true], [" = min("], ["h", true], [", "], ["w", true], [")"]],
  [[ "s", true], [" = "], ["uniform", true], ["(0.01 · "], ["m", true], [", 0.3 · "], ["m", true], [")"]],
  [[ "t", true], [" = "], ["uniform", true], ["(0.01 · "], ["m", true], [", 0.3 · "], ["m", true], [")"]]
];
const baselines = [772, 819, 865, 911, 957];
lines.forEach((ln, i) => {
  const t = mathText(svg, 673, baselines[i], 39, ln);
  t.attr("xml:space", "preserve").style("white-space", "pre");
});

// colorbar label  lg( h·w / s·t )
const cl = svg.append("g").attr("transform", "translate(1559,597) rotate(-90)")
  .attr("font-family", FONT).attr("fill", "black").attr("text-anchor", "start");
cl.append("text").attr("x", -66).attr("y", 8).attr("font-size", 38).attr("text-anchor", "start").text("lg");
cl.append("text").attr("x", -32).attr("y", 11).attr("font-size", 52).attr("text-anchor", "start").text("(");
cl.append("text").attr("x", 17).attr("y", -7).attr("font-size", 28).attr("text-anchor", "middle")
  .attr("font-style", "italic").text("h·w");
cl.append("line").attr("x1", -10).attr("x2", 44).attr("y1", -2).attr("y2", -2)
  .attr("stroke", "black").attr("stroke-width", 2);
cl.append("text").attr("x", 17).attr("y", 22).attr("font-size", 28).attr("text-anchor", "middle")
  .attr("font-style", "italic").text("s·t");
cl.append("text").attr("x", 46).attr("y", 11).attr("font-size", 52).attr("text-anchor", "start").text(")");
</script>
</body>
</html>
